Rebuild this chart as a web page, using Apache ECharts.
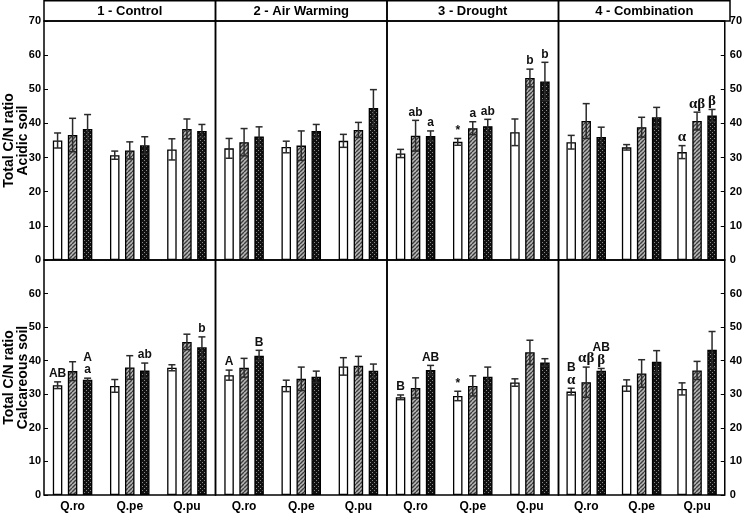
<!DOCTYPE html>
<html><head><meta charset="utf-8">
<script src="https://cdn.jsdelivr.net/npm/echarts@6/dist/echarts.min.js"></script>
<style>html,body{margin:0;padding:0;background:#fff}#c{width:745px;height:513px}</style>
</head><body><div id="c"></div>
<script>
// ---------- data ----------
const categories = ['Q.ro', 'Q.pe', 'Q.pu'];
const panelTitles = ['1 - Control', '2 - Air Warming', '3 - Drought', '4 - Combination'];
const yTicks = [0, 10, 20, 30, 40, 50, 60, 70];

// each array: 4 panels x 3 species (Q.ro, Q.pe, Q.pu)
const acidicOpen       = [35.0, 30.7, 32.4,  32.7, 33.1, 34.9,  31.2, 34.6, 37.4,  34.5, 33.0, 31.6];
const acidicOpenErr    = [2.2, 1.2, 3.1,  2.9, 1.7, 1.9,  1.2, 1.0, 3.9,  2.0, 0.8, 1.9];
const acidicHatched    = [36.6, 32.1, 38.4,  34.5, 33.5, 38.1,  36.4, 38.6, 53.3,  40.7, 38.9, 40.7];
const acidicHatchedErr = [4.9, 2.5, 2.9,  4.0, 4.3, 2.2,  4.5, 1.9, 2.6,  5.1, 2.9, 2.6];
const acidicDotted     = [38.4, 33.6, 37.8,  36.2, 37.8, 44.5,  36.3, 39.2, 52.3,  36.0, 41.8, 42.3];
const acidicDottedErr  = [4.2, 2.5, 1.9,  2.8, 1.9, 5.4,  1.5, 2.0, 5.6,  2.9, 2.9, 1.8];
const acidicOpenLbl    = ['', '', '',  '', '', '',  '', '*', '',  '', '', 'α'];
const acidicHatchedLbl = ['', '', '',  '', '', '',  'ab', 'a', 'b',  '', '', 'αβ'];
const acidicDottedLbl  = ['', '', '',  '', '', '',  'a', 'ab', 'b',  '', '', 'β'];

const calcOpen       = [32.7, 32.5, 37.9,  35.7, 32.5, 38.3,  29.1, 29.5, 33.5,  30.8, 32.6, 31.6];
const calcOpenErr    = [1.0, 1.9, 0.9,  1.5, 1.7, 2.6,  0.7, 1.4, 1.1,  1.0, 1.7, 1.8];
const calcHatched    = [36.9, 38.0, 45.6,  37.9, 34.6, 38.5,  31.9, 32.5, 42.5,  33.6, 36.2, 37.1];
const calcHatchedErr = [2.8, 3.5, 2.3,  2.8, 3.5, 2.8,  3.0, 3.0, 3.6,  4.5, 4.1, 2.7];
const calcDotted     = [34.3, 37.1, 44.0,  41.5, 35.2, 37.0,  37.2, 35.2, 39.5,  37.0, 39.7, 43.3];
const calcDottedErr  = [0.5, 2.2, 3.1,  1.6, 1.7, 2.0,  1.4, 2.9, 1.1,  0.7, 3.3, 5.4];
const calcOpenLbl    = ['AB', '', '',  'A', '', '',  'B', '*', '',  'B\nα', '', ''];
const calcHatchedLbl = ['', '', '',  '', '', '',  '', '', '',  'αβ', '', ''];
const calcDottedLbl  = ['A\na', 'ab', 'b',  'B', '', '',  'AB', '', '',  'AB\nβ', '', ''];

// ---------- layout / style ----------
const L = 44, R = 730, PW = (R - L) / 4;
const BW = 9.5, GAP = 5.5;
const rows = [
  { top: 21, height: 239, title: 'Total C/N ratio\nAcidic soil',
    vals: [acidicOpen, acidicHatched, acidicDotted],
    errs: [acidicOpenErr, acidicHatchedErr, acidicDottedErr],
    lbls: [acidicOpenLbl, acidicHatchedLbl, acidicDottedLbl] },
  { top: 260, height: 235, title: 'Total C/N ratio\nCalcareous soil',
    vals: [calcOpen, calcHatched, calcDotted],
    errs: [calcOpenErr, calcHatchedErr, calcDottedErr],
    lbls: [calcOpenLbl, calcHatchedLbl, calcDottedLbl] }
];

function makeHatch() {
  const c = document.createElement('canvas'); c.width = 4; c.height = 4;
  const g = c.getContext('2d');
  g.fillStyle = '#b8b8b8'; g.fillRect(0, 0, 4, 4);
  g.strokeStyle = '#3c3c3c'; g.lineWidth = 1.4;
  for (const k of [-4, 0, 4]) { g.beginPath(); g.moveTo(k, 4); g.lineTo(k + 4, 0); g.stroke(); }
  return c;
}
function makeDots() {
  const c = document.createElement('canvas'); c.width = 4; c.height = 4;
  const g = c.getContext('2d');
  g.fillStyle = '#111'; g.fillRect(0, 0, 4, 4);
  g.fillStyle = '#8a8a8a'; g.fillRect(0, 0, 1, 1); g.fillRect(2, 2, 1, 1);
  return c;
}
const fills = ['#ffffff', { image: makeHatch(), repeat: 'repeat' }, { image: makeDots(), repeat: 'repeat' }];

const FONT = 'Liberation Sans, Arial, sans-serif';
const SERIF = 'Liberation Serif, DejaVu Serif, serif';

function richLabel(s) {
  return s.split('\n').map(l => /[α-ω]/.test(l) ? '{g|' + l + '}' : '{s|' + l + '}').join('\n');
}

const grid = [], xAxis = [], yAxis = [], series = [];
rows.forEach((row, r) => {
  for (let p = 0; p < 4; p++) {
    const gi = r * 4 + p;
    grid.push({ left: L + p * PW, top: row.top, width: PW, height: row.height,
      show: true, borderColor: '#000', borderWidth: 1.5, backgroundColor: 'transparent' });
    xAxis.push({ type: 'category', gridIndex: gi, data: categories,
      axisLine: { show: false }, axisTick: { show: false },
      axisLabel: { show: r === 1, fontFamily: FONT, fontWeight: 'bold', fontSize: 12, color: '#000', margin: 6 } });
    const showLbl = (p === 0 || p === 3);
    yAxis.push({ type: 'value', gridIndex: gi, min: 0, max: 70, interval: 10,
      position: p === 3 ? 'right' : 'left',
      splitLine: { show: false }, axisLine: { show: false },
      axisTick: { show: showLbl, inside: true, length: 4, lineStyle: { color: '#000', width: 1 } },
      axisLabel: { show: showLbl, fontFamily: FONT, fontWeight: 'bold', fontSize: 11, color: '#000',
        margin: p === 3 ? 5 : 3,
        formatter: v => (r === 1 && v === 70) ? '' : (yTicks.includes(v) ? String(v) : '') } });
    for (let t = 0; t < 3; t++) {
      series.push({ type: 'bar', xAxisIndex: gi, yAxisIndex: gi, silent: true,
        data: row.vals[t].slice(p * 3, p * 3 + 3),
        barWidth: BW, barGap: (GAP / BW * 100).toFixed(0) + '%',
        itemStyle: { color: fills[t], borderColor: '#000', borderWidth: 1.3 } });
    }
    const items = [], labels = [];
    for (let t = 0; t < 3; t++) for (let c = 0; c < 3; c++) {
      items.push([c, row.vals[t][p * 3 + c], row.errs[t][p * 3 + c], t]);
      labels.push(row.lbls[t][p * 3 + c]);
    }
    series.push({ type: 'custom', xAxisIndex: gi, yAxisIndex: gi, silent: true, z: 5,
      encode: { x: 0, y: 1 }, data: items,
      renderItem: (params, api) => {
        const c = api.value(0), v = api.value(1), e = api.value(2), t = api.value(3);
        const off = (t - 1) * (BW + GAP);
        const x = api.coord([c, v])[0] + off;
        const yT = api.coord([c, v + e])[1], yB = api.coord([c, v - e])[1];
        const ls = { stroke: '#2a2a2a', lineWidth: 1.5 };
        const ch = [
          { type: 'line', shape: { x1: x, y1: yB, x2: x, y2: yT }, style: ls },
          { type: 'line', shape: { x1: x - 3.5, y1: yT, x2: x + 3.5, y2: yT }, style: ls },
          { type: 'line', shape: { x1: x - 3.5, y1: yB, x2: x + 3.5, y2: yB }, style: ls }
        ];
        const lb = labels[params.dataIndex];
        if (lb) ch.push({ type: 'text', x: x, y: yT - 2, style: {
          text: richLabel(lb), align: 'center', verticalAlign: 'bottom', fill: '#111',
          rich: { s: { fontFamily: FONT, fontWeight: 'bold', fontSize: 12, lineHeight: 12, fill: '#111' },
                  g: { fontFamily: SERIF, fontWeight: 'bold', fontSize: 15, lineHeight: 13, fill: '#111' } } } });
        return { type: 'group', children: ch };
      } });
  }
});

const graphic = [];
for (let p = 0; p < 4; p++) {
  graphic.push({ type: 'rect', shape: { x: L + p * PW, y: 0.75, width: PW, height: 20.25 },
    style: { fill: 'none', stroke: '#000', lineWidth: 1.5 } });
  graphic.push({ type: 'text', x: L + p * PW + PW / 2, y: 11.5, style: {
    text: panelTitles[p], align: 'center', verticalAlign: 'middle',
    font: 'bold 13px ' + FONT, fill: '#000' } });
}
rows.forEach(row => {
  graphic.push({ type: 'text', x: 16, y: row.top + row.height / 2, rotation: Math.PI / 2, style: {
    text: row.title, align: 'center', verticalAlign: 'middle', lineHeight: 14,
    font: 'bold 14px ' + FONT, fill: '#000' } });
});

const chart = echarts.init(document.getElementById('c'), null, { renderer: 'canvas' });
chart.setOption({ animation: false, backgroundColor: '#fff', grid, xAxis, yAxis, series, graphic });
</script></body></html>
